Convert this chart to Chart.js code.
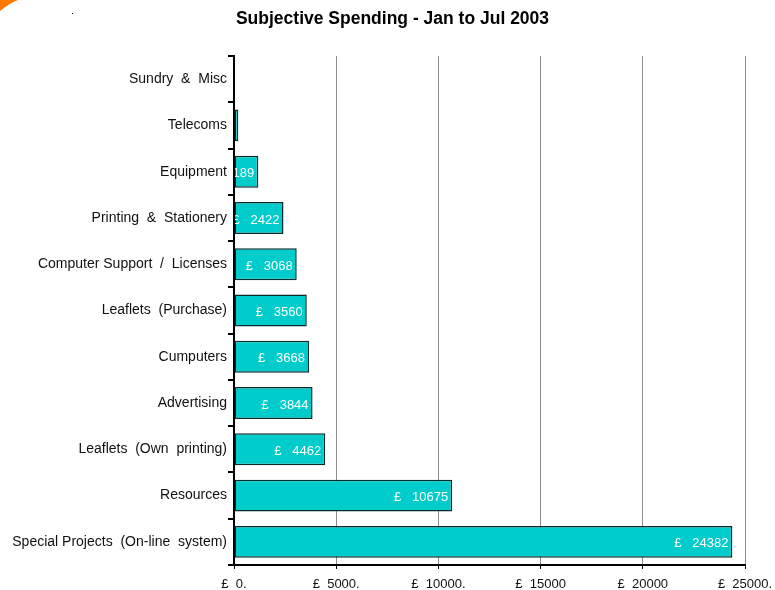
<!DOCTYPE html>
<html>
<head>
<meta charset="utf-8">
<script src="https://cdn.jsdelivr.net/npm/chart.js@4.4.1/dist/chart.umd.min.js"></script>
<style>
  html, body { margin: 0; padding: 0; background: #fff; }
  #wrap { width: 775px; height: 590px; }
</style>
</head>
<body>
<div id="wrap"><canvas id="c" width="775" height="590"></canvas></div>
<script>
// Spending categories, top to bottom
const categories = [
  'Sundry  &  Misc',
  'Telecoms',
  'Equipment',
  'Printing  &  Stationery',
  'Computer Support  /  Licenses',
  'Leaflets  (Purchase)',
  'Cumputers',
  'Advertising',
  'Leaflets  (Own  printing)',
  'Resources',
  'Special Projects  (On-line  system)'
];
// Amount spent (GBP), Jan to Jul 2003
const spending = [0, 210, 1189, 2422, 3068, 3560, 3668, 3844, 4462, 10675, 24382];
// Value-axis tick labels
const tickValues = [0, 5000, 10000, 15000, 20000, 25000];
const tickLabels = ['£  0.', '£  5000.', '£  10000.', '£  15000', '£  20000', '£  25000.'];

const FONT = '"Liberation Sans", Arial, sans-serif';

// White "£ value" labels right-aligned inside each bar end, clipped to the plot
const barLabels = {
  id: 'barLabels',
  afterDatasetsDraw(chart) {
    const { ctx, chartArea } = chart;
    const meta = chart.getDatasetMeta(0);
    ctx.save();
    ctx.beginPath();
    ctx.rect(chartArea.left + 1, chartArea.top, chartArea.right - chartArea.left, chartArea.bottom - chartArea.top);
    ctx.clip();
    ctx.font = '13px ' + FONT;
    ctx.fillStyle = '#ffffff';
    ctx.textAlign = 'right';
    ctx.textBaseline = 'middle';
    meta.data.forEach((bar, i) => {
      ctx.fillText('£   ' + spending[i], bar.x - 4, bar.y + 2);
    });
    ctx.restore();
  }
};

// Small orange corner mark and dot at the top left
const cornerMark = {
  id: 'cornerMark',
  beforeDraw(chart) {
    const ctx = chart.ctx;
    ctx.save();
    ctx.fillStyle = '#ff7a00';
    ctx.beginPath();
    ctx.moveTo(0, 0);
    ctx.lineTo(18, 0);
    ctx.quadraticCurveTo(10, 3, 0, 11);
    ctx.closePath();
    ctx.fill();
    ctx.fillStyle = '#000';
    ctx.fillRect(72, 13, 1, 1);
    ctx.restore();
  }
};

new Chart(document.getElementById('c'), {
  type: 'bar',
  data: {
    labels: categories,
    datasets: [{
      data: spending,
      backgroundColor: '#00cccc',
      borderColor: '#0a2a2a',
      borderWidth: 1.5,
      borderSkipped: false,
      barPercentage: 0.69,
      categoryPercentage: 1.0
    }]
  },
  options: {
    indexAxis: 'y',
    responsive: false,
    animation: false,
    layout: { padding: { left: 10, right: 0, top: 0, bottom: 0 } },
    plugins: {
      legend: { display: false },
      tooltip: { enabled: false },
      title: {
        display: true,
        text: 'Subjective Spending - Jan to Jul 2003',
        color: '#000',
        font: { family: FONT, size: 17.5, weight: 'bold' },
        padding: { top: 9, bottom: 26 }
      }
    },
    scales: {
      x: {
        min: 0,
        max: 25000,
        afterBuildTicks(axis) {
          axis.ticks = tickValues.map(v => ({ value: v }));
        },
        afterFit(axis) {
          axis.height = 25;
          axis.paddingLeft = 0;
          axis.paddingRight = 30;
        },
        ticks: {
          callback: (v, i) => tickLabels[i],
          color: '#111',
          font: { family: FONT, size: 13 },
          maxRotation: 0,
          autoSkip: false,
          padding: 8
        },
        grid: {
          color: '#8c8c8c',
          lineWidth: 1,
          tickColor: '#000',
          tickLength: 4,
          drawOnChartArea: true
        },
        border: { color: '#000', width: 2 }
      },
      y: {
        afterFit(axis) { axis.width = 224; },
        ticks: {
          color: '#111',
          font: { family: FONT, size: 14 },
          padding: 1,
          autoSkip: false
        },
        grid: {
          offset: true,
          drawOnChartArea: false,
          color: '#000',
          tickColor: '#000',
          tickLength: 6,
          lineWidth: 2
        },
        border: { color: '#000', width: 2 }
      }
    }
  },
  plugins: [barLabels, cornerMark]
});
</script>
</body>
</html>
